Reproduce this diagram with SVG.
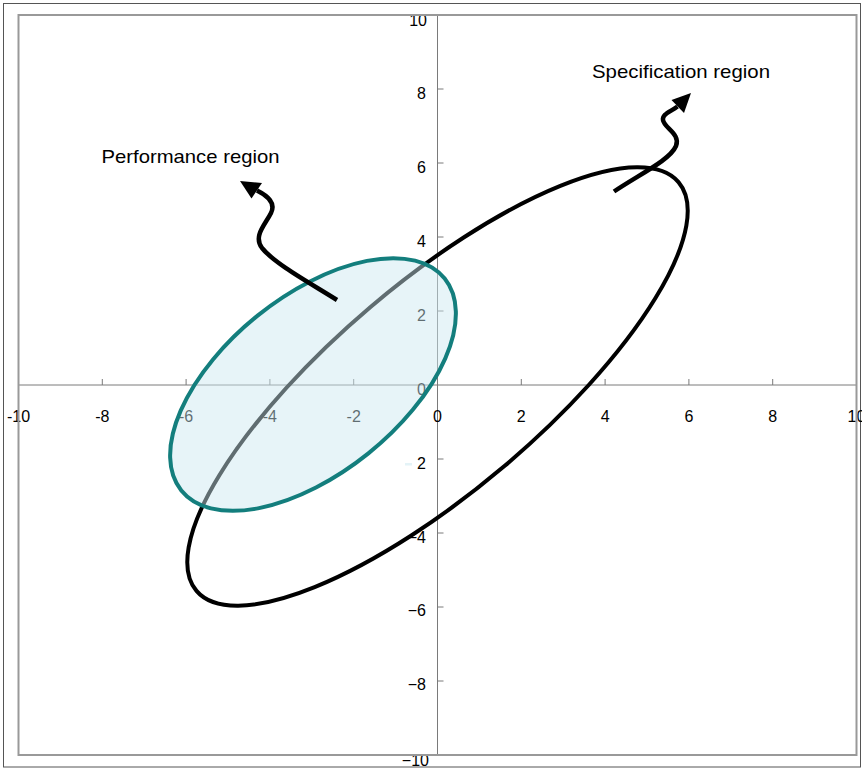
<svg xmlns="http://www.w3.org/2000/svg" width="862" height="769" viewBox="0 0 862 769">
  <style>
    .axis { stroke: #7a7a7a; stroke-width: 1; fill: none; }
    .xl { font-family: "Liberation Sans", Arial, sans-serif; font-size: 16px; fill: #000; text-anchor: middle; }
    .yl { font-family: "Liberation Sans", Arial, sans-serif; font-size: 16px; fill: #000; text-anchor: end; }
    .title { font-family: "Liberation Sans", Arial, sans-serif; font-size: 19px; fill: #000; }
    .arrow { stroke: #000; stroke-width: 4.5; fill: none; stroke-linecap: butt; }
  </style>
  <rect x="0" y="0" width="862" height="769" fill="#fff"/>
  <rect x="3.5" y="3.5" width="857" height="763.5" fill="none" stroke="#555" stroke-width="1"/>

  <g id="axes">
    <line class="axis" x1="18.5" y1="385" x2="856.5" y2="385"/>
    <line class="axis" x1="437.5" y1="15" x2="437.5" y2="755"/>
    <path class="axis" d="M18.5,385v-6 M102.3,385v-6 M186.1,385v-6 M269.9,385v-6 M353.7,385v-6 M521.3,385v-6 M605.1,385v-6 M688.9,385v-6 M772.7,385v-6 M856.5,385v-6"/>
    <path class="axis" d="M437.5,15h6 M437.5,89h6 M437.5,163h6 M437.5,237h6 M437.5,311h6 M437.5,459h6 M437.5,533h6 M437.5,607h6 M437.5,681h6 M437.5,755h6"/>
    <g id="x-labels">
      <text class="xl" x="18.5" y="422">-10</text>
      <text class="xl" x="102.3" y="422">-8</text>
      <text class="xl" x="186.1" y="422">-6</text>
      <text class="xl" x="269.9" y="422">-4</text>
      <text class="xl" x="353.7" y="422">-2</text>
      <text class="xl" x="437.5" y="422">0</text>
      <text class="xl" x="521.3" y="422">2</text>
      <text class="xl" x="605.1" y="422">4</text>
      <text class="xl" x="688.9" y="422">6</text>
      <text class="xl" x="772.7" y="422">8</text>
      <text class="xl" x="856.5" y="422">10</text>
    </g>
    <g id="y-labels">
      <text class="yl" x="427" y="26">10</text>
      <text class="yl" x="426" y="99">8</text>
      <text class="yl" x="426" y="173">6</text>
      <text class="yl" x="426" y="247">4</text>
      <text class="yl" x="426" y="321">2</text>
      <text class="yl" x="426" y="395">0</text>
      <rect x="405" y="463" width="7" height="2.5" fill="#e4f3f7"/>
      <text class="yl" x="426" y="469">2</text>
      <text class="yl" x="426" y="543">−4</text>
      <text class="yl" x="426" y="616">−6</text>
      <text class="yl" x="426" y="690">−8</text>
      <text class="yl" x="429" y="766">−10</text>
    </g>
  </g>

  <g id="specification-region">
    <ellipse cx="437.5" cy="386.5" rx="316" ry="104" transform="rotate(-40.3 437.5 386.5)" fill="none" stroke="#000" stroke-width="4"/>
  </g>

  <g id="performance-region">
    <ellipse cx="313" cy="384.5" rx="169" ry="88.4" transform="rotate(-38.8 313 384.5)" fill="#cbe8f0" fill-opacity="0.47" stroke="none"/>
    <ellipse cx="313" cy="384.5" rx="169" ry="88.4" transform="rotate(-38.8 313 384.5)" fill="none" stroke="#137e7d" stroke-width="4"/>
  </g>

  <rect x="18.5" y="15" width="838" height="740" fill="none" stroke="#999" stroke-width="2"/>

  <g id="connectors">
    <path class="arrow" d="M614,191.5 C640,174 670,160 676,146 C681,134 664,128 663,120 C662,114 670,112 677.5,106.5"/>
    <polygon points="691,93 671.5,100 684,113" fill="#000"/>
    <path class="arrow" d="M337,300 C310,283 275,264 262,248 C253,236 265,225 271,213 C276,203 268,196 257,190.5"/>
    <polygon points="240,181 262,183 251.5,198.5" fill="#000"/>
  </g>

  <g id="label-specification">
    <text class="title" x="592" y="78" textLength="178" lengthAdjust="spacingAndGlyphs">Specification region</text>
  </g>
  <g id="label-performance">
    <text class="title" x="101.5" y="163" textLength="178" lengthAdjust="spacingAndGlyphs">Performance region</text>
  </g>
</svg>
